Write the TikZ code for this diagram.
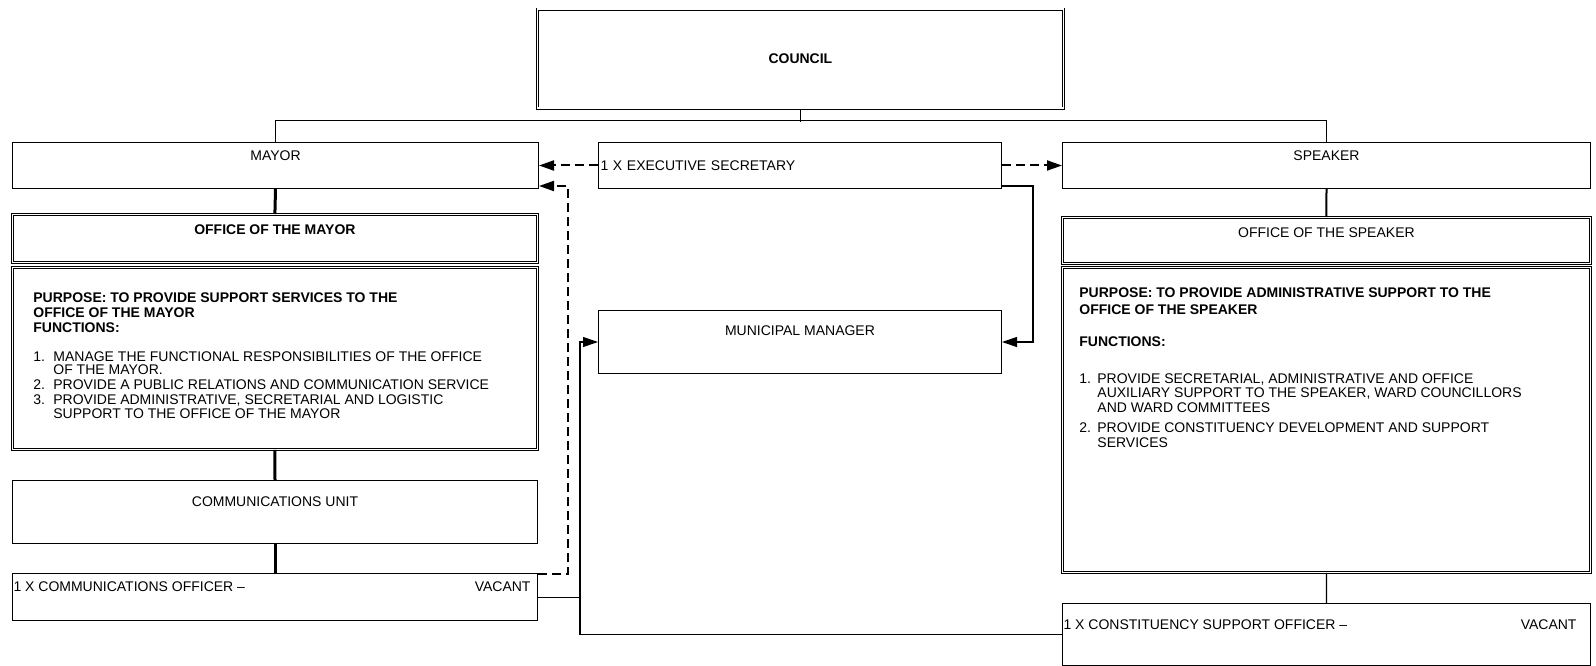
\documentclass[tikz,border=0pt]{standalone}
\usepackage{fontspec}
\setmainfont{Liberation Sans}
\usetikzlibrary{positioning,calc,arrows.meta}
\newcommand\chartfont{\fontsize{14pt}{15pt}\selectfont}

\begin{document}
\begin{tikzpicture}[
		x=1pt, y=-1pt,
		font=\chartfont,
		box/.style={draw, line width=1pt, anchor=north west, inner xsep=2pt, text height=10pt},
		dbox/.style={box, double, double distance=1.8pt, line width=0.8pt},
		bold/.style={font=\chartfont\bfseries},
		link/.style={line width=1pt},
		heavy/.style={line width=3pt},
		dasharrow/.style={line width=2pt, dash pattern=on 9pt off 5pt, -{Triangle[length=15pt,width=10pt]}},
		feed/.style={line width=1.2pt, -{Triangle[length=15pt,width=10pt]}}
		]
		\useasboundingbox (0,0) rectangle (1596,666);
		
		% ===== council and top row =====
		\node[dbox, bold, minimum width=526pt, minimum height=99pt] (council) at (537,9) {COUNCIL};
		\node[box, minimum width=526pt, inner ysep=8pt, text depth=20pt] (mayor) at (12,142) {MAYOR};
		\node[box, text width=399pt, minimum height=46pt, align=left] (execsec) at (598,142) {1 X EXECUTIVE SECRETARY};
		\node[box, minimum width=528pt, inner ysep=8pt, text depth=20pt] (speaker) at (1062,142) {SPEAKER};
		
		% ===== mayor side =====
		\node[dbox, bold, minimum width=525pt, inner ysep=10pt, text depth=18pt] (officemayor) at (12,214) {OFFICE OF THE MAYOR};
		\node[dbox, inner xsep=21pt, inner ysep=25pt, text depth=122pt] (purposemayor) at (12,267) {\parbox[t]{483pt}{\raggedright
				{\bfseries PURPOSE: TO PROVIDE SUPPORT SERVICES TO THE\\
					OFFICE OF THE MAYOR\\
					FUNCTIONS:}\\[14pt]
				\makebox[20pt][l]{1.}MANAGE THE FUNCTIONAL RESPONSIBILITIES OF THE OFFICE\\[-2pt]
				\hspace*{20pt}OF THE MAYOR.\\
				\makebox[20pt][l]{2.}PROVIDE A PUBLIC RELATIONS AND COMMUNICATION SERVICE\\
				\makebox[20pt][l]{3.}PROVIDE ADMINISTRATIVE, SECRETARIAL AND LOGISTIC\\[-1pt]
				\hspace*{20pt}SUPPORT TO THE OFFICE OF THE MAYOR}};
		\node[box, minimum width=525pt, inner ysep=16pt, text depth=21pt] (commsunit) at (12,480) {COMMUNICATIONS UNIT};
		\node[box, inner xsep=1pt, inner ysep=8pt, text depth=21pt] (commsofficer) at (12,573)
		{\makebox[523pt][l]{1 X COMMUNICATIONS OFFICER --\hfill VACANT\hspace{6pt}}};
		
		% ===== centre =====
		\node[box, minimum width=403pt, inner ysep=15pt, text depth=23pt] (mm) at (598,310) {MUNICIPAL MANAGER};
		\coordinate (mmfeed) at ($(mm.west)+(-18,0)$);
		
		% ===== speaker side =====
		\node[dbox, minimum width=528pt, inner ysep=10pt, text depth=16pt] (officespeaker) at (1062,217) {OFFICE OF THE SPEAKER};
		\node[dbox, inner xsep=17pt, inner ysep=20pt, text depth=255pt] (purposespeaker) at (1062,267) {\parbox[t]{494pt}{\raggedright
				{\bfseries PURPOSE: TO PROVIDE ADMINISTRATIVE SUPPORT TO THE\\[2pt]
					OFFICE OF THE SPEAKER\\[17pt]
					FUNCTIONS:}\\[22pt]
				\makebox[18pt][l]{1.}PROVIDE SECRETARIAL, ADMINISTRATIVE AND OFFICE\\[-1pt]
				\hspace*{18pt}AUXILIARY SUPPORT TO THE SPEAKER, WARD COUNCILLORS\\
				\hspace*{18pt}AND WARD COMMITTEES\\[5pt]
				\makebox[18pt][l]{2.}PROVIDE CONSTITUENCY DEVELOPMENT AND SUPPORT\\
				\hspace*{18pt}SERVICES}};
		\node[box, inner xsep=1pt, inner ysep=16pt, text depth=20pt] (constituency) at (1062,603)
		{\makebox[526pt][l]{1 X CONSTITUENCY SUPPORT OFFICER --\hfill VACANT\hspace{13pt}}};
		
		% ===== lines =====
		\draw[link] (council.south) -- ++(0,13);
		\draw[link] (mayor.north) -- ++(0,-21) -| (speaker.north);
		\draw[heavy] (mayor.south) -- (officemayor.north);
		\draw[heavy] (purposemayor.south) -- (commsunit.north);
		\draw[heavy] (commsunit.south) -- (commsofficer.north);
		\draw[line width=2pt] (speaker.south) -- (officespeaker.north);
		\draw[line width=1.3pt] (purposespeaker.south) -- (constituency.north);
		
		% ===== arrows =====
		\draw[dasharrow] (execsec.west) -- (mayor.east);
		\draw[dasharrow] (execsec.east) -- (speaker.west);
		\draw[dasharrow] ([yshift=-1pt]commsofficer.north east) -- ++(30,0) |- ([yshift=3pt]mayor.south east);
		\draw[feed] ([yshift=3pt]execsec.south east) -- ++(31,0) |- (mm.east);
		\draw[link] (commsofficer.east) -- (commsofficer.east -| mmfeed);
		\draw[feed] (constituency.west) -| (mmfeed) -- (mm.west);
		
	\end{tikzpicture}
\end{document}
